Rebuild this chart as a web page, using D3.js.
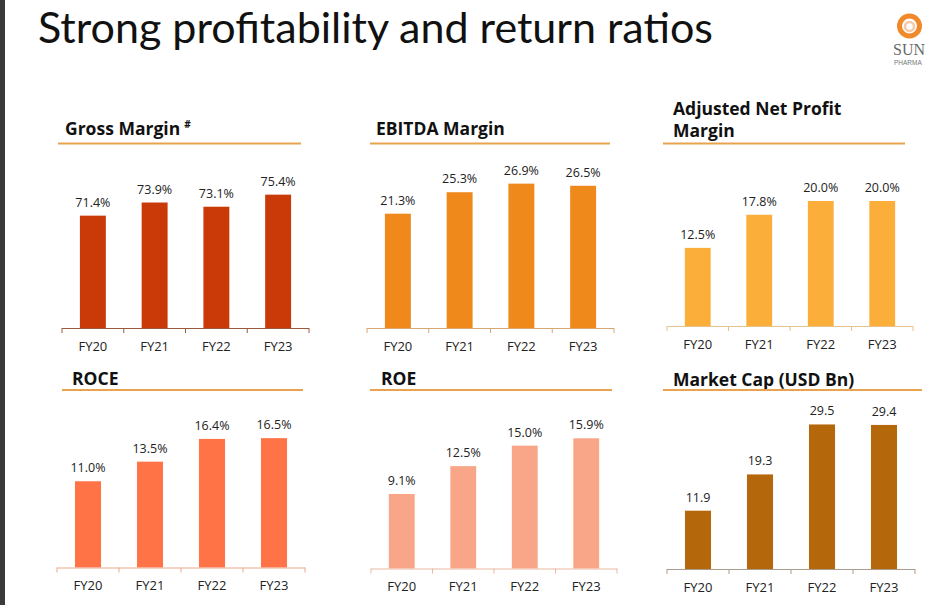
<!DOCTYPE html>
<html>
<head>
<meta charset="utf-8">
<script src="https://cdn.jsdelivr.net/npm/d3@7"></script>
<style>
  html, body { margin: 0; padding: 0; background: #fff; }
  svg { display: block; }
</style>
</head>
<body>
<svg id="chart" width="935" height="605"></svg>
<script>
// ---- Data ----
const categories = ["FY20", "FY21", "FY22", "FY23"];
const grossMargin = [71.4, 73.9, 73.1, 75.4];
const ebitdaMargin = [21.3, 25.3, 26.9, 26.5];
const adjNetProfitMargin = [12.5, 17.8, 20.0, 20.0];
const roce = [11.0, 13.5, 16.4, 16.5];
const roe = [9.1, 12.5, 15.0, 15.9];
const marketCap = [11.9, 19.3, 29.5, 29.4];

const titles = ["Gross Margin", "EBITDA Margin", "Adjusted Net Profit|Margin", "ROCE", "ROE", "Market Cap (USD Bn)"];
const percentFmt = v => v.toFixed(1) + "%";
const plainFmt = v => v.toFixed(1);

// ---- Layout / style config ----
const panels = [
  { title: titles[0], sup: "#", values: grossMargin, fmt: percentFmt, domain: [50, 80],
    ax: [62, 309], axisY: 328, top: 170.5, color: "#C93A08", axisColor: "#9A5A3E",
    hx: 65, hy: [135], line: [58, 301], lineY: 143.5 },
  { title: titles[1], values: ebitdaMargin, fmt: percentFmt, domain: [0, 30],
    ax: [367, 614], axisY: 328, top: 167, color: "#F0891C", axisColor: "#D8A874",
    hx: 376, hy: [135], line: [370, 610], lineY: 143.5 },
  { title: titles[2], values: adjNetProfitMargin, fmt: percentFmt, domain: [0, 25],
    ax: [667, 913], axisY: 326, top: 169.75, color: "#FBAF3A", axisColor: "#E6C38A",
    hx: 673, hy: [115, 137], line: [663, 905], lineY: 143.5 },
  { title: titles[3], values: roce, fmt: percentFmt, domain: [0, 20],
    ax: [57, 305], axisY: 567.5, top: 410.7, color: "#FF7346", axisColor: "#EFA78C",
    hx: 72, hy: [385], line: [62, 303], lineY: 390 },
  { title: titles[4], values: roe, fmt: percentFmt, domain: [0, 20],
    ax: [371, 617], axisY: 568.5, top: 404.7, color: "#F9A588", axisColor: "#EBB9A3",
    hx: 381, hy: [385], line: [370, 612], lineY: 390 },
  { title: titles[5], values: marketCap, fmt: plainFmt, domain: [0, 35],
    ax: [667, 915], axisY: 569, top: 397.5, color: "#B4670B", axisColor: "#A89C8E",
    hx: 673, hy: [386], line: [663, 922], lineY: 390 }
];

const FONT = "'Open Sans', 'Noto Sans', 'DejaVu Sans', sans-serif";
const svg = d3.select("#chart");

// left dark strip
svg.append("rect").attr("x", 0).attr("y", 0).attr("width", 5).attr("height", 605).attr("fill", "#3a3a3a");

// Title
svg.append("text")
  .attr("x", 38).attr("y", 43)
  .attr("font-family", "Lato, 'Open Sans', sans-serif")
  .attr("font-size", 43)
  .attr("font-weight", 400)
  .attr("fill", "#111")
  .attr("textLength", 675)
  .attr("lengthAdjust", "spacingAndGlyphs")
  .text("Strong profitability and return ratios");

// Logo
const logo = svg.append("g");
logo.append("circle").attr("cx", 909.5).attr("cy", 26).attr("r", 10)
  .attr("fill", "none").attr("stroke", "#F0892A").attr("stroke-width", 5);
logo.append("circle").attr("cx", 909.5).attr("cy", 26.5).attr("r", 4.5)
  .attr("fill", "none").attr("stroke", "#F7C9A2").attr("stroke-width", 2.5);
logo.append("text").attr("x", 893).attr("y", 54.5)
  .attr("font-family", "'Liberation Serif', 'DejaVu Serif', serif")
  .attr("font-size", 16).attr("fill", "#6a6a6a").text("SUN");
logo.append("text").attr("x", 894).attr("y", 64.5)
  .attr("font-family", "'Liberation Sans', Arial, sans-serif")
  .attr("font-size", 6.5).attr("fill", "#777").text("PHARMA");

// Panels
panels.forEach(p => {
  const g = svg.append("g");

  // header text
  const lines = p.title.split("|");
  lines.forEach((t, i) => {
    const tx = g.append("text")
      .attr("x", p.hx).attr("y", p.hy[i])
      .attr("font-family", FONT)
      .attr("font-size", 17.5)
      .attr("font-weight", 700)
      .attr("fill", "#111")
      .text(t);
    if (p.sup && i === lines.length - 1) {
      tx.append("tspan").attr("dx", 4).attr("dy", -7)
        .attr("font-size", 10).text(p.sup);
    }
  });

  // header rule
  g.append("line")
    .attr("x1", p.line[0]).attr("x2", p.line[1])
    .attr("y1", p.lineY).attr("y2", p.lineY)
    .attr("stroke", "#E9A24E").attr("stroke-width", 2);

  // scales
  const x = d3.scaleBand().domain(categories).range(p.ax).padding(0);
  const y = d3.scaleLinear().domain(p.domain).range([p.axisY, p.top]);
  const step = x.step();
  const bw = step * 0.42;

  // bars
  g.selectAll("rect.bar")
    .data(p.values)
    .join("rect")
    .attr("class", "bar")
    .attr("x", (d, i) => x(categories[i]) + (step - bw) / 2)
    .attr("width", bw)
    .attr("y", d => y(d))
    .attr("height", d => y(p.domain[0]) - y(d))
    .attr("fill", p.color);

  // value labels
  g.selectAll("text.val")
    .data(p.values)
    .join("text")
    .attr("class", "val")
    .attr("x", (d, i) => x(categories[i]) + step / 2)
    .attr("y", d => y(d) - 9)
    .attr("text-anchor", "middle")
    .attr("font-family", FONT)
    .attr("font-size", 12.5)
    .attr("fill", "#222")
    .text(d => p.fmt(d));

  // axis line + ticks at category boundaries
  g.append("line")
    .attr("x1", p.ax[0]).attr("x2", p.ax[1])
    .attr("y1", p.axisY + 0.5).attr("y2", p.axisY + 0.5)
    .attr("stroke", p.axisColor).attr("stroke-width", 1.2);
  const bounds = categories.map(c => x(c)).concat([x(categories[categories.length - 1]) + step]);
  g.selectAll("line.tick")
    .data(bounds)
    .join("line")
    .attr("class", "tick")
    .attr("x1", d => d).attr("x2", d => d)
    .attr("y1", p.axisY).attr("y2", p.axisY + 5)
    .attr("stroke", p.axisColor).attr("stroke-width", 1);

  // category labels
  g.selectAll("text.cat")
    .data(categories)
    .join("text")
    .attr("class", "cat")
    .attr("x", c => x(c) + step / 2)
    .attr("y", p.axisY + 22.5)
    .attr("text-anchor", "middle")
    .attr("font-family", FONT)
    .attr("font-size", 13)
    .attr("fill", "#222")
    .text(c => c);
});
</script>
</body>
</html>
